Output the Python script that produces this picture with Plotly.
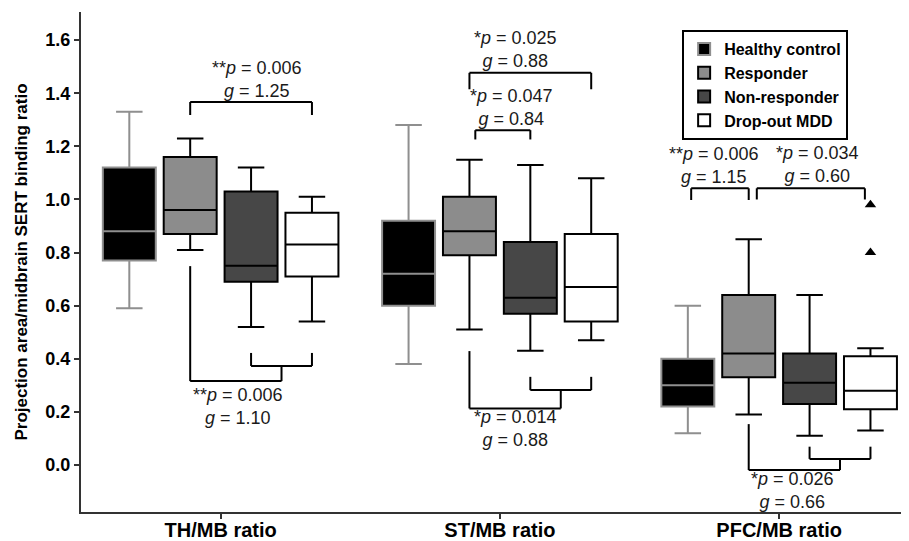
import plotly.graph_objects as go

# ---------------- data ----------------
categories = ["TH/MB ratio", "ST/MB ratio", "PFC/MB ratio"]
groups = ["Healthy control", "Responder", "Non-responder", "Drop-out MDD"]

hc_lower = [0.59, 0.38, 0.12]
hc_q1 = [0.77, 0.60, 0.22]
hc_median = [0.88, 0.72, 0.30]
hc_q3 = [1.12, 0.92, 0.40]
hc_upper = [1.33, 1.28, 0.60]

resp_lower = [0.81, 0.51, 0.19]
resp_q1 = [0.87, 0.79, 0.33]
resp_median = [0.96, 0.88, 0.42]
resp_q3 = [1.16, 1.01, 0.64]
resp_upper = [1.23, 1.15, 0.85]

nonr_lower = [0.52, 0.43, 0.11]
nonr_q1 = [0.69, 0.57, 0.23]
nonr_median = [0.75, 0.63, 0.31]
nonr_q3 = [1.03, 0.84, 0.42]
nonr_upper = [1.12, 1.13, 0.64]

drop_lower = [0.54, 0.47, 0.13]
drop_q1 = [0.71, 0.54, 0.21]
drop_median = [0.83, 0.67, 0.28]
drop_q3 = [0.95, 0.87, 0.41]
drop_upper = [1.01, 1.08, 0.44]

# outliers of the Drop-out MDD group in PFC/MB ratio
outlier_category = 2
outlier_values = [0.98, 0.80]

y_ticks = [0.0, 0.2, 0.4, 0.6, 0.8, 1.0, 1.2, 1.4, 1.6]

# statistics text
top_tests = [
    # (category, group_from, group_to, stars, p, g)
    (0, 1, 3, "**", "0.006", "1.25"),
    (1, 1, 3, "*", "0.025", "0.88"),
    (1, 1, 2, "*", "0.047", "0.84"),
    (2, 0, 1, "**", "0.006", "1.15"),
    (2, 1, 3, "*", "0.034", "0.60"),
]
bottom_tests = [
    (0, "**", "0.006", "1.10"),
    (1, "*", "0.014", "0.88"),
    (2, "*", "0.026", "0.66"),
]

# ---------------- layout parameters ----------------
BOXGAP = 0.128
BOXGROUPGAP = 0.13
N_GROUPS = len(groups)
SPACING = (1 - BOXGAP) / N_GROUPS  # distance between box centres within a category
X_RANGE = [-0.5, 2.465]

def gx(cat, grp):
    return cat + (grp - (N_GROUPS - 1) / 2) * SPACING

FONT = "Arial, Liberation Sans, sans-serif"

styles = [
    dict(fill="#000000", line="#8f8f8f"),
    dict(fill="#8c8c8c", line="#000000"),
    dict(fill="#474747", line="#000000"),
    dict(fill="#ffffff", line="#000000"),
]
stats = [
    (hc_lower, hc_q1, hc_median, hc_q3, hc_upper),
    (resp_lower, resp_q1, resp_median, resp_q3, resp_upper),
    (nonr_lower, nonr_q1, nonr_median, nonr_q3, nonr_upper),
    (drop_lower, drop_q1, drop_median, drop_q3, drop_upper),
]

fig = go.Figure()
for i, g in enumerate(groups):
    lo, q1, med, q3, up = stats[i]
    fig.add_trace(go.Box(
        name=g, x=categories, q1=q1, median=med, q3=q3,
        lowerfence=lo, upperfence=up,
        fillcolor=styles[i]["fill"],
        line=dict(color=styles[i]["line"], width=2),
        whiskerwidth=0.5, boxpoints=False,
    ))

# outlier points on an overlaid linear x axis sharing the same range
fig.add_trace(go.Scatter(
    x=[gx(outlier_category, 3)] * len(outlier_values), y=outlier_values,
    xaxis="x2", yaxis="y", mode="markers", showlegend=False, hoverinfo="y",
    marker=dict(symbol="triangle-up", color="#000000", size=10, line=dict(width=0)),
))

shapes = []
annotations = []

def seg(x0, y0, x1, y1):
    shapes.append(dict(type="line", xref="x", yref="y", x0=x0, y0=y0, x1=x1, y1=y1,
                       line=dict(color="#000000", width=2)))

def label(x, y, star, p, g):
    annotations.append(dict(
        xref="x", yref="y", x=x, y=y, showarrow=False, xanchor="center", yanchor="middle",
        text=f"{star}<i>p</i> = {p}<br><i>g</i> = {g}",
        font=dict(family=FONT, size=18, color="#1a1a1a"), align="center"))

# top brackets: bar height, end height, text x, text y, end nudges
top_geom = [
    (1.367, 1.318, 0.132, 1.452, 0.0, 0.0),
    (1.477, 1.415, 1.057, 1.563, 0.0, 0.0),
    (1.261, 1.226, 1.043, 1.345, 0.021, 0.0),
    (1.042, 0.998, 1.767, 1.128, 0.012, 0.0),
    (1.042, 1.000, 2.136, 1.133, 0.029, -0.02),
]
for (cat, a, b, star, p, g), (ybar, yend, tx, ty, dl, dr) in zip(top_tests, top_geom):
    x0 = gx(cat, a) + dl
    x1 = gx(cat, b) + dr
    seg(x0, yend, x0, ybar)
    seg(x0, ybar, x1, ybar)
    seg(x1, ybar, x1, yend)
    label(tx, ty, star, p, g)

# bottom brackets: responder vs (non-responder + drop-out)
bot_geom = [
    (0.749, 0.422, 0.373, 0.316, 0.061, 0.220),
    (0.429, 0.332, 0.282, 0.213, 1.057, 0.136),
    (0.154, 0.069, 0.023, -0.019, 2.047, -0.096),
]
for (cat, star, p, g), (ystart, yse, ysm, ybig, tx, ty) in zip(bottom_tests, bot_geom):
    xr = gx(cat, 1)
    xn = gx(cat, 2)
    xd = gx(cat, 3)
    xm = (xn + xd) / 2
    seg(xn, yse, xn, ysm)
    seg(xn, ysm, xd, ysm)
    seg(xd, ysm, xd, yse)
    seg(xm, ysm, xm, ybig)
    seg(xr, ystart, xr, ybig)
    seg(xr, ybig, xm, ybig)
    label(tx, ty, star, p, g)

fig.update_layout(
    width=901, height=533,
    margin=dict(l=73, r=0, t=4, b=29),
    paper_bgcolor="white", plot_bgcolor="white",
    boxmode="group", boxgap=BOXGAP, boxgroupgap=BOXGROUPGAP,
    shapes=shapes, annotations=annotations,
    showlegend=True,
    legend=dict(x=0.726, y=0.964, xanchor="left", yanchor="top",
                bgcolor="white", bordercolor="#000000", borderwidth=2,
                font=dict(family=FONT, size=16, color="#000000", weight="bold"),
                tracegroupgap=0, itemclick=False),
    font=dict(family=FONT, color="#000000"),
    xaxis=dict(
        type="category", range=X_RANGE, showgrid=False, zeroline=False,
        showline=True, linecolor="#333333", linewidth=2,
        ticks="outside", ticklen=5, tickwidth=1.5, tickcolor="#333333",
        ticklabelstandoff=-6,
        tickfont=dict(family=FONT, size=20, color="#000000", weight="bold"),
        automargin=False,
    ),
    xaxis2=dict(overlaying="x", range=X_RANGE, visible=False, showgrid=False,
                zeroline=False, fixedrange=True),
    yaxis=dict(
        range=[-0.177, 1.706], showgrid=False, zeroline=False,
        showline=True, linecolor="#333333", linewidth=2,
        ticks="outside", ticklen=5, tickwidth=1.5, tickcolor="#333333",
        tickvals=y_ticks, ticktext=[f"{v:.1f}" for v in y_ticks],
        tickfont=dict(family=FONT, size=18, color="#000000", weight="bold"),
        title=dict(text="Projection area/midbrain SERT binding ratio", standoff=13,
                   font=dict(family=FONT, size=17, color="#000000", weight="bold")),
        automargin=False,
    ),
)

fig.write_html("out.html")
